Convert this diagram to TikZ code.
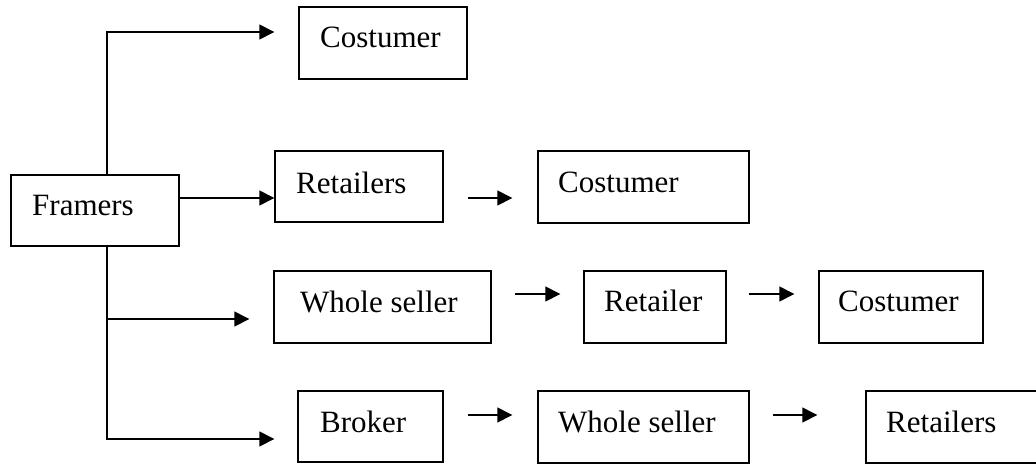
\documentclass[tikz,border=0pt]{standalone}
\usepackage{fontspec}
\setmainfont{Liberation Serif}
\usetikzlibrary{arrows.meta}
\begin{document}
\begin{tikzpicture}[x=1pt,y=-1pt,
  box/.style={draw,line width=1.4pt,inner sep=0pt,minimum width=#1},
  lbl/.style={anchor=base west,inner sep=0pt,font=\fontsize{31}{36}\selectfont},
  conn/.style={line width=1.4pt,-{Triangle[length=15pt,width=15pt]}},
  plain/.style={line width=1.4pt}]
\useasboundingbox (0,0) rectangle (1036,464);
\clip (0,0) rectangle (1036,464);
% boxes
\node[box=168pt,minimum height=71pt] (framers) at (95,210.5) {};
\node[box=168pt,minimum height=72pt] (cost1) at (383,43) {};
\node[box=168pt,minimum height=71pt] (ret2) at (359,186.5) {};
\node[box=211pt,minimum height=72pt] (cost2) at (643.5,187) {};
\node[box=217pt,minimum height=72pt] (whole3) at (382.5,307) {};
\node[box=142pt,minimum height=72pt] (ret3) at (655,307) {};
\node[box=164pt,minimum height=72pt] (cost3) at (901,307) {};
\node[box=145pt,minimum height=71pt] (broker) at (370.5,426.5) {};
\node[box=211pt,minimum height=72pt] (whole4) at (643.5,427) {};
\node[box=176pt,minimum height=72pt] (ret4) at (954,427) {};
% labels
\node[lbl] (tframers) at (32,215) {Framers};
\node[lbl] (tcost1) at (320,47) {Costumer};
\node[lbl] (tret2) at (296,193) {Retailers};
\node[lbl] (tcost2) at (558,192) {Costumer};
\node[lbl] (twhole3) at (300,312) {Whole seller};
\node[lbl] (tret3) at (604,311) {Retailer};
\node[lbl] (tcost3) at (838,311) {Costumer};
\node[lbl] (tbroker) at (320,432) {Broker};
\node[lbl] (twhole4) at (558,432) {Whole seller};
\node[lbl] (tret4) at (886,432) {Retailers};
% connectors from Framers
\coordinate (fn) at ([xshift=12pt]framers.north);
\coordinate (fs) at ([xshift=12pt]framers.south);
\coordinate (t1) at ([xshift=-24pt,yshift=11pt]cost1.west);
\coordinate (t3) at ([xshift=-24pt,yshift=-12pt]whole3.west);
\coordinate (t4) at ([xshift=-23pt,yshift=-12.5pt]broker.west);
\draw[conn] (fn) |- (t1);
\draw[conn] ([yshift=12.5pt]framers.east) -- ([yshift=12.5pt]framers.east -| ret2.west);
\draw[conn] (fs) |- (t4);
\draw[conn] (fs |- t3) -- (t3);
% chain arrows
\draw[conn] ([xshift=24pt,yshift=-11.5pt]ret2.east) -- ([xshift=-25pt,yshift=-11pt]cost2.west);
\draw[conn] ([xshift=23pt,yshift=13pt]whole3.east) -- ([xshift=-23pt,yshift=13pt]ret3.west);
\draw[conn] ([xshift=22pt,yshift=13pt]ret3.east) -- ([xshift=-24pt,yshift=13pt]cost3.west);
\draw[conn] ([xshift=24pt,yshift=11.5pt]broker.east) -- ([xshift=-25pt,yshift=12pt]whole4.west);
\draw[conn] ([xshift=23pt,yshift=12pt]whole4.east) -- ([xshift=-48pt,yshift=12pt]ret4.west);
\end{tikzpicture}
\end{document}
